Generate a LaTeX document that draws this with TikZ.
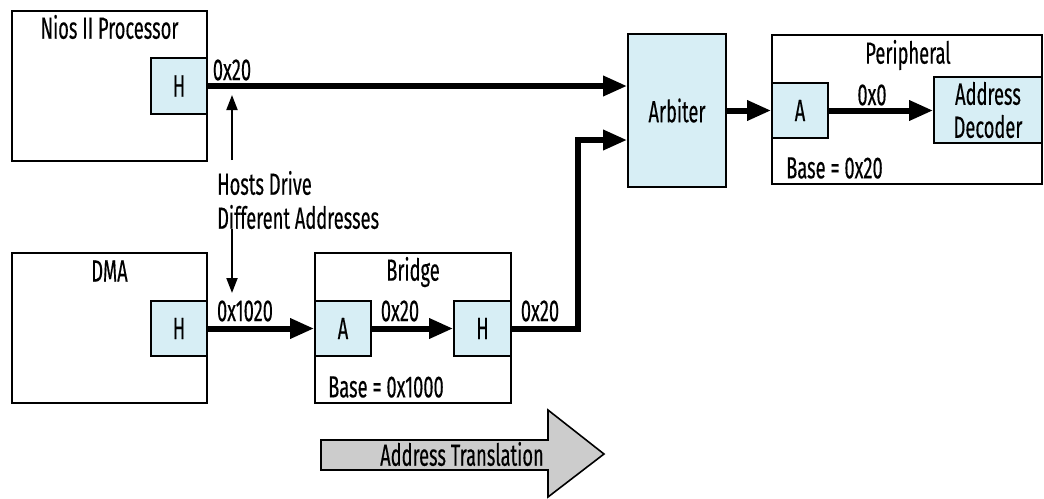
\documentclass[tikz,border=0pt]{standalone}
\usepackage{fontspec}
\setmainfont[FakeStretch=0.6,FakeBold=0.3]{Fira Sans}
\usetikzlibrary{arrows.meta}
\definecolor{portblue}{HTML}{D7EEF5}
\definecolor{transgray}{HTML}{CCCCCC}
\begin{document}
\begin{tikzpicture}[x=1pt,y=-1pt,
  every node/.style={font=\fontsize{30.5}{33}\selectfont, inner sep=0pt},
  portbox/.style={draw, line width=1.6pt, fill=portblue},
  thickarrow/.style={line width=6pt, -{Triangle[length=24pt,width=19pt]}},
  thinarrow/.style={line width=2pt, -{Triangle[length=15pt,width=11pt]}}
]
\useasboundingbox (0,0) rectangle (1044,498);

% Nios II Processor
\node[draw, line width=1.6pt, minimum width=195pt, minimum height=150pt] (nios) at (109.5,86) {};
\node (niost) at (109.5,27) {Nios II Processor};
\node[portbox, minimum width=56pt, minimum height=56pt] (hn) at (179,86) {H};

% DMA
\node[draw, line width=1.6pt, minimum width=195pt, minimum height=150pt] (dma) at (109.5,328) {};
\node (dmat) at (109.5,271) {DMA};
\node[portbox, minimum width=56pt, minimum height=55pt] (hd) at (179,328.5) {H};

% Bridge
\node[draw, line width=1.6pt, minimum width=196pt, minimum height=150pt] (bridge) at (413,328) {};
\node (bridget) at (413,272) {Bridge};
\node[portbox, minimum width=56pt, minimum height=55pt] (ab) at (343,328.5) {A};
\node[portbox, minimum width=57pt, minimum height=55pt] (hb) at (482.5,328.5) {H};
\node[anchor=west] (basebr) at (328,387) {Base = 0x1000};

% Arbiter
\node[portbox, minimum width=98pt, minimum height=153pt] (arb) at (677,110.5) {Arbiter};

% Peripheral
\node[draw, line width=1.6pt, minimum width=270pt, minimum height=149pt] (periph) at (907,109.5) {};
\node (periopht) at (908,55) {Peripheral};
\node[portbox, minimum width=56pt, minimum height=55pt] (ap) at (800,110.5) {A};
\node[portbox, minimum width=108pt, minimum height=66pt, align=center] (ad) at (988,110) {Address\\Decoder};
\node[anchor=west] (baseper) at (786,168) {Base = 0x20};

% Connectors
\coordinate (bend1) at (578,328.5);
\coordinate (bend2) at (578,140);
\draw[thickarrow] (hn.east) -- (arb.west |- hn.east);
\draw[thickarrow] (hd.east) -- (ab.west);
\draw[thickarrow] (ab.east) -- (hb.west);
\draw[thickarrow, line join=miter] (hb.east) -- (bend1) -- (bend2) -- (arb.west |- bend2);
\draw[thickarrow] (arb.east |- ap.west) -- (ap.west);
\draw[thickarrow] (ap.east) -- (ad.west |- ap.east);

% Address labels
\node (l1) at (232,70) {0x20};
\node (l2) at (245,311) {0x1020};
\node (l3) at (400,311) {0x20};
\node (l4) at (540,311) {0x20};
\node (l5) at (872,95) {0x0};

% Hosts drive note
\node[anchor=west] (note1) at (217,183) {Hosts Drive};
\node[anchor=west] (note2) at (217,217) {Different Addresses};
\coordinate (upfrom) at (232,160);
\coordinate (upto) at (232,95);
\coordinate (downfrom) at (232,229);
\coordinate (downto) at (232,293);
\draw[thinarrow] (upfrom) -- (upto);
\draw[thinarrow] (downfrom) -- (downto);

% Address Translation arrow
\draw[line width=1.6pt, fill=transgray, line join=miter]
  (321,440) -- (548,440) -- (548,410) -- (604,454) -- (548,497) -- (548,470) -- (321,470) -- cycle;
\node (trans) at (462,454) {Address Translation};
\end{tikzpicture}
\end{document}
